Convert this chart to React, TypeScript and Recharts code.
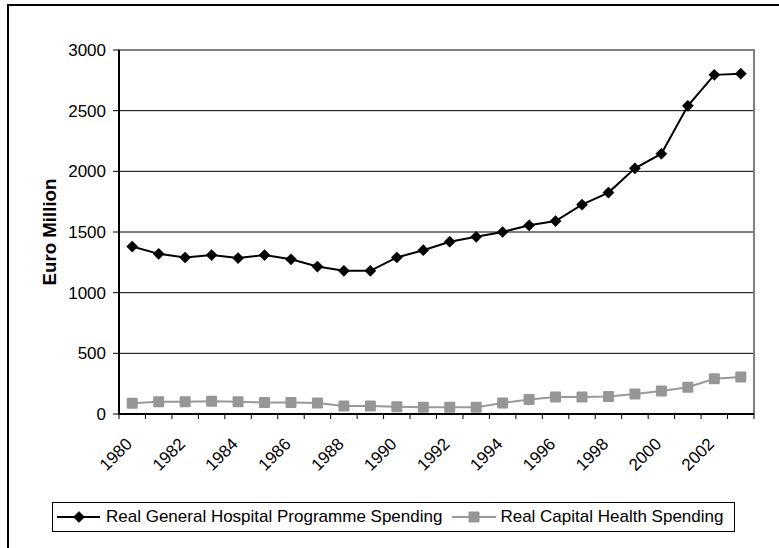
import React from 'react';
import { LineChart, Line, XAxis, YAxis, CartesianGrid, Legend, ReferenceArea } from 'recharts';

const years = ['1980','1981','1982','1983','1984','1985','1986','1987','1988','1989','1990','1991','1992','1993','1994','1995','1996','1997','1998','1999','2000','2001','2002','2003'];
const generalSpending = [1380,1320,1290,1310,1285,1310,1275,1215,1180,1180,1290,1350,1420,1460,1500,1555,1590,1725,1825,2025,2145,2540,2795,2805];
const capitalSpending = [88,100,100,105,100,95,95,90,65,65,60,55,55,55,90,120,140,140,145,165,190,220,290,305];
const yTicks = [0,500,1000,1500,2000,2500,3000];
const seriesNames = ['Real General Hospital Programme Spending', 'Real Capital Health Spending'];

const data = years.map((y, i) => ({ idx: i, year: y, general: generalSpending[i], capital: capitalSpending[i] }));

// tick values: category boundaries (half-integers) and labelled centres (even indices)
const boundaryTicks = Array.from({ length: years.length + 1 }, (_, i) => i - 0.5);
const labelTicks = years.map((_, i) => i).filter((i) => i % 2 === 0);
const xTicks = [...boundaryTicks, ...labelTicks].sort((a, b) => a - b);

const FONT = "'Liberation Sans', Arial, sans-serif";
const GREY = '#999999';

const Diamond = (props: any) => {
  const { cx, cy } = props;
  if (cx == null || cy == null) return null;
  const r = 5.6;
  return <path d={`M${cx},${cy - r}L${cx + r},${cy}L${cx},${cy + r}L${cx - r},${cy}Z`} fill="#000" stroke="#000" strokeWidth={0.5} />;
};

const Square = (props: any) => {
  const { cx, cy } = props;
  if (cx == null || cy == null) return null;
  return <rect x={cx - 5.5} y={cy - 5.5} width={11} height={11} rx={1} fill="#969696" />;
};

const XTick = (props: any) => {
  const { x, y, payload } = props;
  const v = payload.value as number;
  if (Math.abs(v - Math.round(v)) > 0.1) {
    return <line x1={x} y1={y - 5} x2={x} y2={y} stroke="#000" strokeWidth={1} />;
  }
  const label = years[Math.round(v)];
  const ax = x + 1;
  const ay = y + 26;
  return (
    <text x={ax} y={ay} textAnchor="end" fontFamily={FONT} fontSize={17} fill="#000" transform={`rotate(-45, ${ax}, ${ay})`}>
      {label}
    </text>
  );
};

const LegendContent = () => (
  <div style={{ boxSizing: 'border-box', width: 683, height: 30, border: '1px solid #000', display: 'flex', alignItems: 'center', fontFamily: FONT, fontSize: 17, color: '#000', paddingLeft: 4, whiteSpace: 'nowrap', background: '#fff' }}>
    <svg width={43} height={14} style={{ display: 'block' }}>
      <line x1={0} y1={7} x2={43} y2={7} stroke="#000" strokeWidth={2} />
      <Diamond cx={22} cy={7} />
    </svg>
    <span style={{ marginLeft: 6 }}>{seriesNames[0]}</span>
    <svg width={44} height={14} style={{ display: 'block', marginLeft: 10 }}>
      <line x1={0} y1={7} x2={44} y2={7} stroke={GREY} strokeWidth={2} />
      <Square cx={22} cy={7} />
    </svg>
    <span style={{ marginLeft: 4 }}>{seriesNames[1]}</span>
  </div>
);

export default function App() {
  return (
    <div style={{ position: 'absolute', left: 0, top: 0, width: 779, height: 548, background: '#fff', overflow: 'hidden' }}>
      <div style={{ position: 'absolute', left: 7, top: 4, width: 772, height: 544, borderTop: '2px solid #000', borderLeft: '2px solid #000', boxSizing: 'border-box' }} />
      <div style={{ position: 'absolute', left: 0, top: 0 }}>
        <LineChart width={779} height={548} data={data} margin={{ top: 50, right: 25, bottom: 0, left: 0 }}>
          <CartesianGrid horizontal={true} vertical={false} stroke="#000" strokeWidth={1} />
          <ReferenceArea x1={-0.5} x2={23.5} y1={0} y2={3000} fill="none" stroke="#808080" strokeWidth={2} ifOverflow="visible" />
          <XAxis
            type="number"
            dataKey="idx"
            domain={[-0.5, 23.5]}
            ticks={xTicks}
            interval={0}
            tick={XTick}
            tickLine={false}
            tickSize={5}
            tickMargin={0}
            height={134}
            axisLine={{ stroke: '#000', strokeWidth: 2 }}
            allowDataOverflow
          />
          <YAxis
            domain={[0, 3000]}
            ticks={yTicks}
            interval={0}
            width={119}
            tickSize={6}
            tickMargin={7}
            tick={{ fontFamily: FONT, fontSize: 17, fill: '#000' }}
            tickLine={{ stroke: '#000' }}
            axisLine={{ stroke: '#000', strokeWidth: 2 }}
            label={{ value: 'Euro Million', angle: -90, position: 'insideLeft', offset: 49, style: { fontFamily: FONT, fontSize: 18.7, fontWeight: 'bold', fill: '#000', textAnchor: 'middle' } }}
          />
          <Line dataKey="capital" name={seriesNames[1]} stroke={GREY} strokeWidth={2} dot={<Square />} activeDot={false} isAnimationActive={false} />
          <Line dataKey="general" name={seriesNames[0]} stroke="#000" strokeWidth={2} dot={<Diamond />} activeDot={false} isAnimationActive={false} />
          <Legend layout="horizontal" verticalAlign="middle" align="center" content={LegendContent} wrapperStyle={{ left: 52, top: 502, width: 683, height: 30 }} />
        </LineChart>
      </div>
    </div>
  );
}
